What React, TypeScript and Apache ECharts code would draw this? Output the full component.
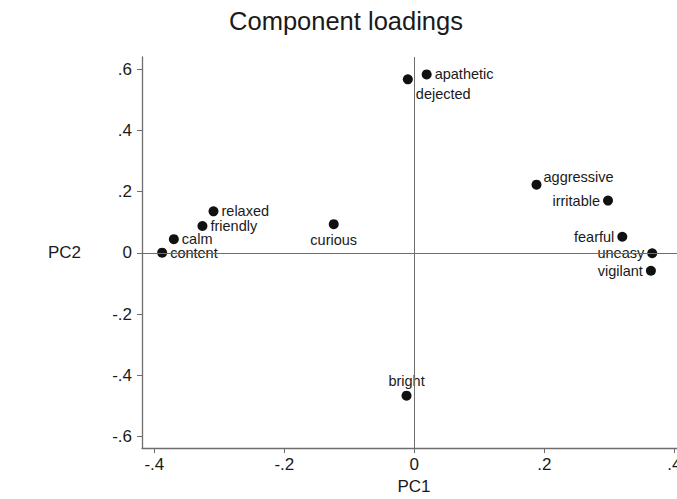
import React, { useEffect, useRef } from "react";
import * as echarts from "echarts";

const names = ["apathetic", "dejected", "aggressive", "irritable", "fearful", "uneasy", "vigilant", "relaxed", "friendly", "calm", "content", "curious", "bright"];
const pc1 = [0.019, -0.010, 0.188, 0.298, 0.320, 0.366, 0.364, -0.309, -0.326, -0.370, -0.388, -0.124, -0.012];
const pc2 = [0.583, 0.567, 0.223, 0.171, 0.053, -0.001, -0.058, 0.136, 0.088, 0.045, 0.001, 0.094, -0.466];
const xTicks = [-0.4, -0.2, 0, 0.2, 0.4];
const yTicks = [-0.6, -0.4, -0.2, 0, 0.2, 0.4, 0.6];

const labelStyle: Record<string, any> = {
  apathetic: { position: "right", distance: 3 },
  dejected: { position: [13, 12], align: "left", verticalAlign: "top" },
  aggressive: { position: [12, -3], align: "left", verticalAlign: "middle" },
  irritable: { position: "left", distance: 3 },
  fearful: { position: "left", distance: 3 },
  uneasy: { position: "left", distance: 3 },
  vigilant: { position: "left", distance: 3 },
  relaxed: { position: "right", distance: 3 },
  friendly: { position: "right", distance: 3 },
  calm: { position: "right", distance: 3 },
  content: { position: "right", distance: 3 },
  curious: { position: "bottom", distance: 3 },
  bright: { position: "top", distance: 2 },
};

const fmt = (v: number) => (Math.abs(v) < 1e-9 ? "0" : v.toFixed(1).replace("0.", "."));

const FONT = "Liberation Sans, Arial, sans-serif";
const TXT = "#1a1a1a";
const AX = "#6e6e6e";

export default function App() {
  const ref = useRef<HTMLDivElement>(null);
  useEffect(() => {
    if (!ref.current) return;
    const chart = echarts.init(ref.current, null, { renderer: "svg" });
    const data = names.map((n, i) => ({
      name: n,
      value: [pc1[i], pc2[i]],
      label: { show: true, formatter: n, ...labelStyle[n] },
    }));
    chart.setOption({
      animation: false,
      backgroundColor: "#ffffff",
      textStyle: { fontFamily: FONT },
      graphic: [
        {
          type: "text",
          x: 346,
          y: 21,
          style: { text: "Component loadings", fontSize: 25.5, fontFamily: FONT, fill: TXT, align: "center", verticalAlign: "middle" },
        },
      ],
      grid: { left: 142, top: 57, bottom: 51, right: -9, containLabel: false, outerBoundsMode: "none" },
      xAxis: {
        type: "value",
        min: -0.419,
        max: 0.418,
        name: "PC1",
        nameLocation: "middle",
        nameGap: 27,
        nameTextStyle: { fontSize: 17, color: TXT, fontFamily: FONT, verticalAlign: "top" },
        axisLine: { onZero: false, lineStyle: { color: AX, width: 1.3 } },
        axisTick: { show: true, length: 5, customValues: xTicks, lineStyle: { color: AX } },
        axisLabel: { customValues: xTicks, formatter: fmt, fontSize: 17, color: TXT, margin: 8, fontFamily: FONT },
        splitLine: { show: false },
      },
      yAxis: {
        type: "value",
        min: -0.637,
        max: 0.64,
        name: "PC2",
        nameLocation: "middle",
        nameRotate: 0,
        nameGap: 61,
        nameTextStyle: { fontSize: 17, color: TXT, fontFamily: FONT },
        axisLine: { onZero: false, lineStyle: { color: AX, width: 1.3 } },
        axisTick: { show: true, length: 5, customValues: yTicks, lineStyle: { color: AX } },
        axisLabel: { customValues: yTicks, formatter: fmt, fontSize: 17, color: TXT, margin: 10, fontFamily: FONT },
        splitLine: { show: false },
      },
      series: [
        {
          type: "scatter",
          symbol: "circle",
          symbolSize: 10,
          itemStyle: { color: "#111111", opacity: 1 },
          label: { fontSize: 14.5, color: TXT, fontFamily: FONT },
          data,
          markLine: {
            silent: true,
            symbol: "none",
            label: { show: false },
            lineStyle: { color: AX, width: 1, type: "solid" },
            data: [{ xAxis: 0 }, { yAxis: 0 }],
          },
          z: 3,
        },
      ],
    });
    return () => chart.dispose();
  }, []);
  return <div ref={ref} style={{ width: 677, height: 499, position: "absolute", left: 0, top: 0 }} />;
}
